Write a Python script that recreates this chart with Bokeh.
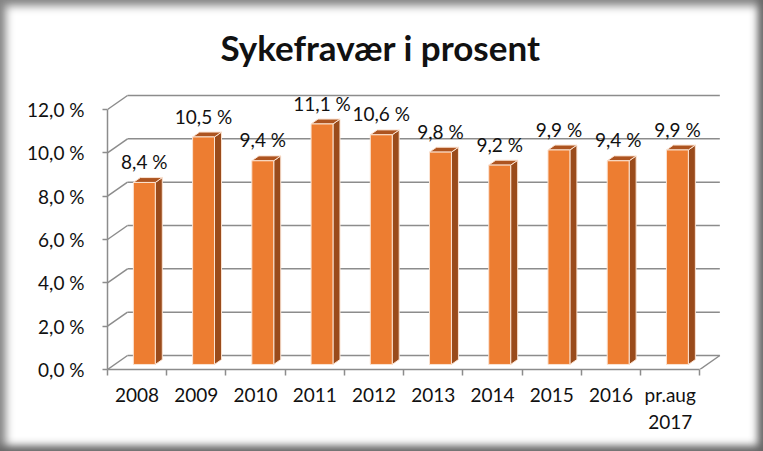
import numpy as np
from bokeh.plotting import figure
from bokeh.models import FixedTicker, Range1d, ColumnDataSource
from bokeh.core.properties import value
from bokeh.embed import file_html
from bokeh.resources import INLINE

# ---------------- data ----------------
title_text = "Sykefravær i prosent"
categories = ["2008", "2009", "2010", "2011", "2012", "2013", "2014", "2015", "2016", "pr.aug\n2017"]
values = [8.4, 10.5, 9.4, 11.1, 10.6, 9.8, 9.2, 9.9, 9.4, 9.9]
value_labels = ["8,4 %", "10,5 %", "9,4 %", "11,1 %", "10,6 %", "9,8 %", "9,2 %", "9,9 %", "9,4 %", "9,9 %"]
ytick_values = [0, 2, 4, 6, 8, 10, 12]
ytick_labels = ["0,0 %", "2,0 %", "4,0 %", "6,0 %", "8,0 %", "10,0 %", "12,0 %"]

# ---------------- 3D geometry (data units) ----------------
DEPTH_X = 0.338   # back-wall shift along category axis
DEPTH_Y = 0.646   # back-wall shift along value axis
BAR_D0 = 0.36     # bar front face position (fraction of depth)
BAR_D = 0.35      # bar depth (fraction of depth)
BAR_W = 0.37      # bar width (category units)

FONT = "Lato"
FS = "19px"
GRID = "#8c8c8c"
FRONT = "#ED7D31"
SIDE = "#9A4B1B"
TOP = "#AD5420"
EDGE = "#FBE3D2"
TXT = "#111111"

n = len(categories)
idx = np.arange(n)
vals = np.array(values)

p = figure(width=763, height=451, output_backend="svg", toolbar_location=None,
           x_range=Range1d(0, 10.4), y_range=Range1d(0, 13.015),
           min_border_left=107, min_border_right=40, min_border_top=87, min_border_bottom=82,
           styles={"background-color": "white",
                   "box-shadow": "inset -5px -5px 9px #666666, inset 3px 3px 9px 3px #8a8a8a"})
p.border_fill_alpha = 0
p.background_fill_alpha = 0
p.outline_line_color = None
p.xgrid.visible = False
p.ygrid.visible = False

# title
p.title.text = title_text
p.title.align = "left"
p.title.offset = 113
p.title.standoff = 40
p.title.text_font = FONT
p.title.text_font_size = "35px"
p.title.text_font_style = "bold"
p.title.text_color = TXT

# y axis
ya = p.yaxis[0]
ya.ticker = FixedTicker(ticks=ytick_values)
ya.major_label_overrides = {v: s for v, s in zip(ytick_values, ytick_labels)}
ya.bounds = (ytick_values[0], ytick_values[-1])
ya.axis_line_color = GRID
ya.axis_line_width = 1.5
ya.major_tick_line_color = GRID
ya.major_tick_line_width = 1.5
ya.major_tick_out = 5
ya.major_tick_in = 0
ya.minor_tick_line_color = None
ya.major_label_standoff = 18
ya.major_label_text_font = FONT
ya.major_label_text_font_size = FS
ya.major_label_text_color = TXT

# x axis (labels at category centres, ticks at category boundaries)
xa = p.xaxis[0]
centers = list(idx + 0.5)
xa.ticker = FixedTicker(ticks=centers, minor_ticks=list(range(n + 1)))
xa.major_label_overrides = {c: s for c, s in zip(centers, categories)}
xa.bounds = (0, n)
xa.axis_line_color = GRID
xa.axis_line_width = 1.5
xa.major_tick_line_color = None
xa.minor_tick_line_color = GRID
xa.minor_tick_line_width = 1.5
xa.minor_tick_out = 6
xa.minor_tick_in = 0
xa.major_label_standoff = 7
xa.major_label_text_font = FONT
xa.major_label_text_font_size = FS
xa.major_label_text_color = TXT
xa.major_label_text_align = "center"

# back wall gridlines and left-wall / floor diagonals
yt = np.array(ytick_values, dtype=float)
p.segment(x0=np.full(len(yt), DEPTH_X), y0=yt + DEPTH_Y,
          x1=np.full(len(yt), n + DEPTH_X), y1=yt + DEPTH_Y,
          line_color=GRID, line_width=1.5)
p.segment(x0=np.zeros(len(yt)), y0=yt, x1=np.full(len(yt), DEPTH_X), y1=yt + DEPTH_Y,
          line_color=GRID, line_width=1.5)
p.segment(x0=[n], y0=[0], x1=[n + DEPTH_X], y1=[DEPTH_Y], line_color=GRID, line_width=1.5)

# bars
fx = idx + 0.5 + BAR_D0 * DEPTH_X
xl = fx - BAR_W / 2
xr = fx + BAR_W / 2
yb = np.full(n, BAR_D0 * DEPTH_Y)
yt_bar = vals + BAR_D0 * DEPTH_Y
ddx = BAR_D * DEPTH_X
ddy = BAR_D * DEPTH_Y

side_xs = [[a, a, a + ddx, a + ddx] for a in xr]
side_ys = [[b, t, t + ddy, b + ddy] for b, t in zip(yb, yt_bar)]
top_xs = [[l, r, r + ddx, l + ddx] for l, r in zip(xl, xr)]
top_ys = [[t, t, t + ddy, t + ddy] for t in yt_bar]

p.patches(side_xs, side_ys, fill_color=SIDE, line_color=EDGE, line_width=1)
p.patches(top_xs, top_ys, fill_color=TOP, line_color=EDGE, line_width=1)
p.quad(left=xl, right=xr, bottom=yb, top=yt_bar, fill_color=FRONT, line_color=EDGE, line_width=1)

# data labels
src = ColumnDataSource(dict(x=fx, y=yt_bar + ddy, t=value_labels))
p.text(x="x", y="y", text="t", source=src, text_align="center", text_baseline="alphabetic",
       y_offset=-16, text_font=value(FONT), text_font_size=FS, text_color=TXT)

open("out.html", "w").write(file_html(p, INLINE))
